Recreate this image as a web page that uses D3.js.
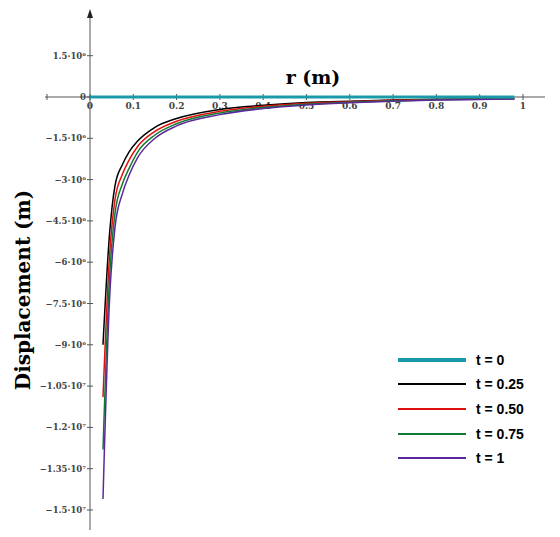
<!DOCTYPE html><html><head><script src="https://cdn.jsdelivr.net/npm/d3@7"></script>
<style>body{margin:0;background:#fff}</style></head><body><svg id="c" width="560" height="537"></svg>
<script>
const r = [0.03,0.045,0.058,0.075,0.09,0.11,0.15,0.2,0.3,0.4,0.5,0.6,0.7,0.8,0.9,0.98];
const r0 = [0,0.98];
const t0 = [0,0];
const t025 = [-9.0e6,-5.0e6,-3.2e6,-2.45e6,-2.0e6,-1.6e6,-1.1e6,-0.78e6,-0.45e6,-0.3e6,-0.2e6,-0.15e6,-0.11e6,-0.08e6,-0.06e6,-0.05e6];
const t050 = [-10.9e6,-5.8e6,-3.7e6,-2.8e6,-2.3e6,-1.8e6,-1.25e6,-0.88e6,-0.52e6,-0.34e6,-0.23e6,-0.17e6,-0.12e6,-0.09e6,-0.07e6,-0.06e6];
const t075 = [-12.8e6,-6.6e6,-4.2e6,-3.15e6,-2.6e6,-2.0e6,-1.38e6,-0.97e6,-0.58e6,-0.38e6,-0.26e6,-0.19e6,-0.14e6,-0.1e6,-0.08e6,-0.06e6];
const t1 = [-14.6e6,-7.4e6,-4.7e6,-3.5e6,-2.85e6,-2.2e6,-1.5e6,-1.05e6,-0.64e6,-0.42e6,-0.29e6,-0.21e6,-0.15e6,-0.11e6,-0.09e6,-0.07e6];
const labels = ["t = 0","t = 0.25","t = 0.50","t = 0.75","t = 1"];
const colors = ["#1a9aa8","#000000","#e01010","#107a30","#5a2a9a"];
const xTicks = [0,0.1,0.2,0.3,0.4,0.5,0.6,0.7,0.8,0.9,1];
const yTicks = [1.5e6,0,-1.5e6,-3e6,-4.5e6,-6e6,-7.5e6,-9e6,-10.5e6,-12e6,-13.5e6,-15e6];
const yTickLabels = ["1.5·10⁶","0","−1.5·10⁶","−3·10⁶","−4.5·10⁶","−6·10⁶","−7.5·10⁶","−9·10⁶","−1.05·10⁷","−1.2·10⁷","−1.35·10⁷","−1.5·10⁷"];
const series=[t0,t025,t050,t075,t1];
const svg=d3.select("#c");
const x=d3.scaleLinear().domain([0,1]).range([90,523]);
const y=d3.scaleLinear().domain([0,-15e6]).range([97,510]);
const f="'DejaVu Serif','Liberation Serif',serif";
svg.append("line").attr("x1",45).attr("x2",545).attr("y1",y(0)).attr("y2",y(0)).attr("stroke","#555");
svg.append("line").attr("x1",x(0)).attr("x2",x(0)).attr("y1",14).attr("y2",530).attr("stroke","#555");
svg.append("path").attr("d",`M${x(0)-3},18L${x(0)},9L${x(0)+3},18Z`).attr("fill","#222");
svg.append("line").attr("x1",47).attr("x2",47).attr("y1",y(0)-3).attr("y2",y(0)+3).attr("stroke","#555");
xTicks.forEach(v=>{svg.append("line").attr("x1",x(v)).attr("x2",x(v)).attr("y1",y(0)-3).attr("y2",y(0)+3).attr("stroke","#555");
 svg.append("text").attr("x",x(v)).attr("y",y(0)+12).attr("text-anchor","middle").attr("font-family",f).attr("font-weight","bold").attr("font-size",9).attr("fill","#444").text(v);});
yTicks.forEach((v,i)=>{svg.append("line").attr("x1",x(0)-3).attr("x2",x(0)+3).attr("y1",y(v)).attr("y2",y(v)).attr("stroke","#555");
 svg.append("text").attr("x",x(0)-4).attr("y",y(v)+3).attr("text-anchor","end").attr("font-family",f).attr("font-weight","bold").attr("font-size",8.5).attr("fill","#444").text(yTickLabels[i]);});
const line=d3.line().x((d,i)=>x(r[i])).y(d=>y(d)).curve(d3.curveMonotoneX);
series.forEach((s,k)=>{ if(k==0) return; svg.append("path").attr("d",line(s)).attr("fill","none").attr("stroke",colors[k]).attr("stroke-width",1.5);});
const line0=d3.line().x((d,i)=>x(r0[i])).y(d=>y(d));
svg.append("path").attr("d",line0(t0)).attr("fill","none").attr("stroke",colors[0]).attr("stroke-width",3);
svg.append("text").attr("x",313).attr("y",84).attr("text-anchor","middle").attr("font-family",f).attr("font-weight","bold").attr("font-size",19).text("r (m)");
svg.append("text").attr("transform","translate(30,290) rotate(-90)").attr("text-anchor","middle").attr("font-family",f).attr("font-weight","bold").attr("font-size",20).text("Displacement (m)");
const ly=[360,384,409,434,458];
labels.forEach((l,k)=>{svg.append("line").attr("x1",398).attr("x2",466).attr("y1",ly[k]).attr("y2",ly[k]).attr("stroke",colors[k]).attr("stroke-width",k==0?4:2);
 svg.append("text").attr("x",476).attr("y",ly[k]+5).attr("font-family","'Liberation Sans',Arial,sans-serif").attr("font-weight","bold").attr("font-size",14).text(l);});
</script></body></html>
